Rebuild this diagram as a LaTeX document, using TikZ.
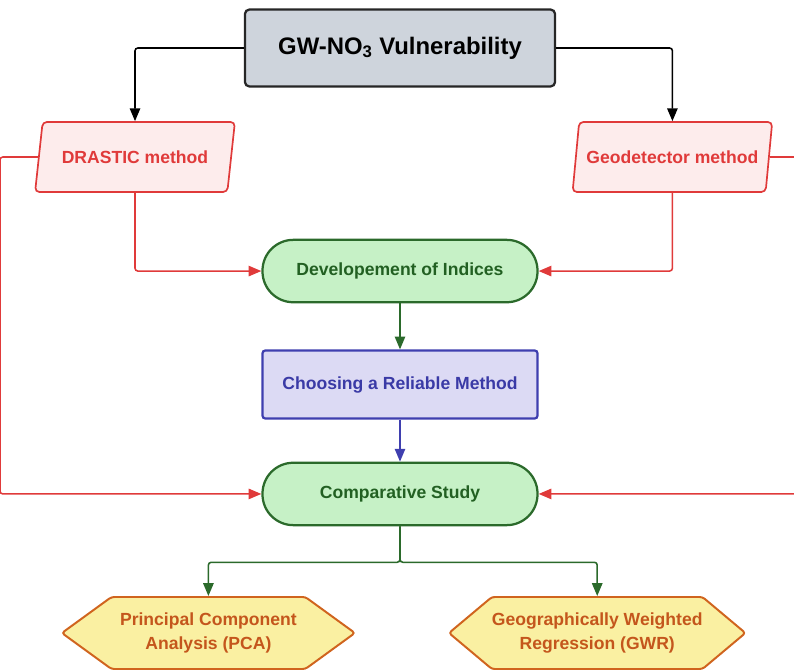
\documentclass[tikz,border=0pt]{standalone}
\usepackage{fontspec}
\setmainfont{Liberation Sans}
\usepackage{xcolor}
\usepackage{tikz}
\usetikzlibrary{positioning, arrows.meta, shapes.geometric, shapes.symbols, calc}

\definecolor{gwfill}{HTML}{CED4DC}
\definecolor{gwdraw}{HTML}{262626}
\definecolor{redline}{HTML}{E03A3A}
\definecolor{pinkfill}{HTML}{FDECEC}
\definecolor{greenfill}{HTML}{C6F1C6}
\definecolor{greendraw}{HTML}{2B6A2B}
\definecolor{greentext}{HTML}{226022}
\definecolor{bluefill}{HTML}{DCDAF4}
\definecolor{bluedraw}{HTML}{3F3FAF}
\definecolor{bluetext}{HTML}{3A3AA6}
\definecolor{yellowfill}{HTML}{FAF0A2}
\definecolor{orangedraw}{HTML}{D0641E}
\definecolor{orangetext}{HTML}{C4561C}

\begin{document}
\begin{tikzpicture}[
		node distance=1.0cm and 2.0cm,
		every node/.style={font=\fontsize{12.5}{16.5}\selectfont\bfseries},
		topbox/.style={rectangle, draw=gwdraw, line width=1.6pt, rounded corners=3pt, fill=gwfill, minimum width=7.75cm, minimum height=1.92cm, font=\fontsize{17}{20}\selectfont\bfseries},
		method/.style={trapezium, trapezium left angle=74, trapezium right angle=106, trapezium stretches=true, draw=redline, line width=1.2pt, rounded corners=3pt, fill=pinkfill, text=redline, minimum width=5cm, minimum height=1.75cm},
		stage/.style={rectangle, draw=greendraw, line width=1.6pt, rounded corners=0.77cm, fill=greenfill, text=greentext, minimum width=6.875cm, minimum height=1.56cm},
		choice/.style={rectangle, draw=bluedraw, line width=1.6pt, rounded corners=2pt, fill=bluefill, text=bluetext, minimum width=6.875cm, minimum height=1.7cm},
		result/.style={signal, signal to=west and east, signal pointer angle=72, draw=orangedraw, line width=1.4pt, rounded corners=2pt, fill=yellowfill, text=orangetext, align=center, inner xsep=0pt, minimum width=7.325cm, minimum height=1.8cm},
		arrow/.style={-{Triangle[length=0.32cm, width=0.26cm]}, line width=1.1pt, rounded corners=2pt}
		]

		\useasboundingbox (0,0) rectangle (19.85,-16.775);
		\clip (0,0) rectangle (19.85,-16.775);

		\node[topbox] (gw) at (10.0,-1.2) {GW-NO\textsubscript{3} Vulnerability};
		\node[method] (drastic) at (3.375,-3.925) {DRASTIC method};
		\node[method] (geodet) at (16.81,-3.925) {Geodetector method};

		\node[stage, below=3.78cm of gw] (indices) {Developement of Indices};
		\node[choice, below=1.15cm of indices] (choose) {Choosing a Reliable Method};
		\node[stage, below=1.05cm of choose] (compare) {Comparative Study};

		\node[result] (pca) at (5.21,-15.825) {Principal Component\\Analysis (PCA)};
		\node[result, signal pointer angle=80] (gwr) at (14.93,-15.825) {Geographically Weighted\\Regression (GWR)};

		\draw[arrow, black] (gw.west) -| (drastic);
		\draw[arrow, black] (gw.east) -| (geodet);

		\draw[arrow, redline] (drastic) |- (indices);
		\draw[arrow, redline] (geodet) |- (indices);
		\draw[arrow, redline] (drastic.west) -- ++(-0.95,0) |- (compare);
		\draw[arrow, redline] (geodet.east) -- ++(1.2,0) |- (compare);

		\draw[arrow, greendraw] (indices) -- (choose);
		\draw[arrow, bluedraw] (choose) -- (compare);

		\draw[arrow, greendraw] (compare.south) -- ++(0,-0.9) -| (pca);
		\draw[arrow, greendraw] (compare.south) -- ++(0,-0.9) -| (gwr);
	\end{tikzpicture}
\end{document}
